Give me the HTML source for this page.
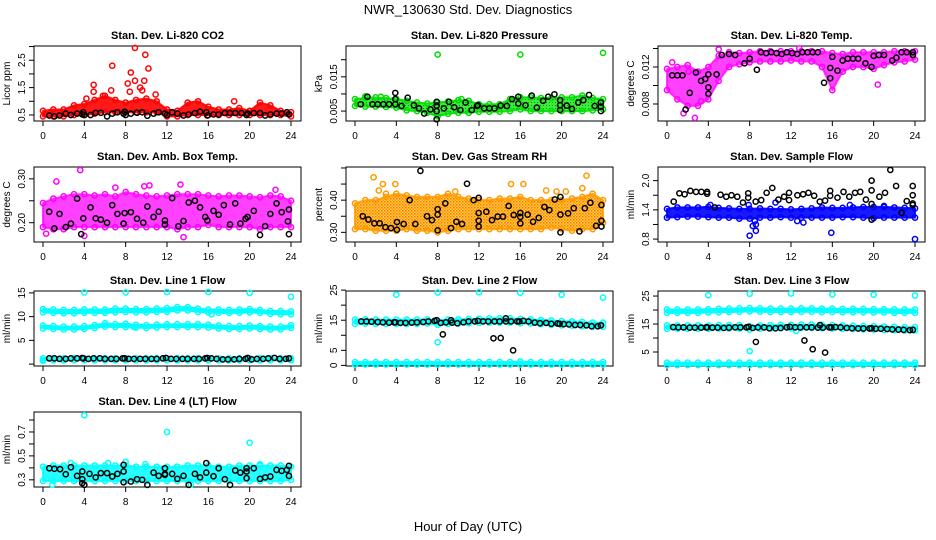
<!DOCTYPE html>
<html><head><meta charset="utf-8"><title>NWR_130630 Std. Dev. Diagnostics</title>
<style>
html,body{margin:0;padding:0;background:#fff;}
svg{display:block;font-family:"Liberation Sans",Arial,sans-serif;}
</style></head>
<body>
<svg id="fig" width="936" height="540" viewBox="0 0 936 540">
<defs>
<pattern id="rhpat" width="3" height="3" patternUnits="userSpaceOnUse"><rect width="3" height="3" fill="#ffd000"/><rect width="1.5" height="1.5" fill="#ff5000"/><rect x="1.5" y="1.5" width="1.5" height="1.5" fill="#ff8000"/></pattern>
<pattern id="grpat" width="3" height="3" patternUnits="userSpaceOnUse"><rect width="3" height="3" fill="#22ee22"/><rect width="1" height="1" fill="#0a700a"/></pattern>
</defs>
<text x="468" y="14" text-anchor="middle" font-size="13">NWR_130630  Std. Dev. Diagnostics</text>
<text x="468" y="531" text-anchor="middle" font-size="13">Hour of Day (UTC)</text>
</svg>
<script>
// ---- shared hourly grid for band series ----
const hours = [0,1,2,3,4,5,6,7,8,9,10,11,12,13,14,15,16,17,18,19,20,21,22,23,24];

// ---- Panel 1: Li-820 CO2 ----
const co2Lo = [0.45,0.45,0.45,0.5,0.5,0.55,0.6,0.6,0.6,0.6,0.6,0.6,0.45,0.45,0.5,0.5,0.5,0.5,0.5,0.5,0.5,0.5,0.5,0.5,0.45];
const co2Hi = [0.65,0.7,0.7,0.85,0.9,1.05,1.2,1.05,0.95,1.05,1.1,1.0,0.7,0.65,0.95,1.0,0.8,0.7,0.7,0.75,0.65,0.95,0.85,0.65,0.6];
const co2OutH = [6.7,8.9,9.9,10.2,8.5,8.9,8.2,4.9,4.9,6.6,8.4,9.4,9.8,18.5,4.2,9.6,10.9,5.8];
const co2OutV = [2.3,2.95,2.7,2.2,2.05,1.75,1.65,1.6,1.35,1.4,1.35,1.5,1.75,1.0,1.1,1.4,1.25,1.2];
const co2BlkH = [0.6,1.1,1.6,2.2,2.7,3.3,3.8,3.9,4.0,4.6,5.1,5.6,6.2,6.7,7.2,7.8,7.9,8.0,8.5,9.1,9.6,10.1,10.7,11.2,11.8,12.0,12.5,13.0,13.6,14.1,14.7,15.2,15.8,15.9,16.5,17.0,17.6,18.1,18.6,19.2,19.7,19.8,20.4,21.0,21.5,22.0,22.6,23.1,23.6,23.8];
const co2BlkV = [0.48,0.45,0.48,0.55,0.5,0.55,0.52,0.6,0.5,0.5,0.58,0.58,0.45,0.55,0.6,0.55,0.62,0.5,0.55,0.58,0.6,0.47,0.55,0.6,0.55,0.5,0.6,0.55,0.48,0.52,0.57,0.62,0.6,0.48,0.52,0.52,0.57,0.57,0.57,0.57,0.5,0.55,0.57,0.57,0.48,0.52,0.55,0.55,0.6,0.52];

// ---- Panel 2: Li-820 Pressure ----
const presLo = [0.0065,0.0063,0.0063,0.0062,0.006,0.0052,0.005,0.0045,0.0035,0.0042,0.0045,0.0045,0.0048,0.0048,0.0048,0.005,0.0055,0.005,0.005,0.005,0.005,0.005,0.005,0.0052,0.0055];
const presHi = [0.0085,0.0088,0.009,0.0088,0.0085,0.008,0.0075,0.0072,0.0075,0.0078,0.0082,0.008,0.007,0.007,0.007,0.0085,0.009,0.009,0.0088,0.0088,0.009,0.009,0.0095,0.0088,0.0085];
const presOutH = [8,16,24,10.3,1.0,2.5];
const presOutV = [0.0215,0.0215,0.022,0.0085,0.0093,0.0092];
const presBlkH = [0.55,1.2,1.7,2.2,2.75,3.3,3.9,3.9,3.9,4.5,5.1,5.7,6.2,6.7,7.3,7.9,7.9,7.9,7.9,8.6,9.1,9.6,10.2,10.7,11.3,11.8,11.9,12.5,13.0,13.5,14.1,14.7,15.2,15.8,15.8,16.5,17.1,17.6,18.2,18.7,19.3,19.85,19.85,19.85,20.5,21.0,21.6,22.1,22.65,23.2,23.8,23.8,23.8];
const presBlkV = [0.007,0.0092,0.007,0.007,0.007,0.007,0.0103,0.0085,0.007,0.0065,0.0089,0.0067,0.0058,0.0043,0.0055,0.0077,0.0066,0.005,0.0026,0.0058,0.0077,0.0061,0.0053,0.0075,0.0053,0.0065,0.0067,0.0058,0.0058,0.0058,0.0066,0.0065,0.0085,0.0092,0.0072,0.0067,0.0095,0.006,0.008,0.0092,0.0099,0.0082,0.0067,0.0053,0.0066,0.0056,0.0075,0.0082,0.0097,0.0065,0.0075,0.0063,0.005];

// ---- Panel 3: Li-820 Temp ----
const tempLo = [0.0095,0.0085,0.0078,0.0078,0.0085,0.0105,0.012,0.0123,0.0125,0.0126,0.0126,0.0126,0.0127,0.0126,0.0126,0.012,0.0095,0.0115,0.012,0.012,0.0118,0.0122,0.0125,0.0126,0.0128];
const tempHi = [0.0118,0.012,0.0122,0.0115,0.012,0.0132,0.0136,0.0135,0.0136,0.0137,0.0137,0.0137,0.0137,0.0137,0.0137,0.0137,0.0135,0.0134,0.0136,0.0136,0.0136,0.0136,0.0137,0.0137,0.0137];
const tempOutH = [0.5,1.6,2.7,2.1,5.0,12.8,20.4,3.3];
const tempOutV = [0.0125,0.007,0.0065,0.0115,0.0139,0.014,0.0101,0.0083];
const tempBlkH = [0.5,1.0,1.5,1.8,2.2,2.8,3.3,3.7,4.0,4.0,4.0,4.8,5.3,6.0,6.6,7.5,8.0,8.7,9.1,9.6,10.1,10.6,11.1,11.6,12.1,12.6,13.1,13.6,14.1,14.6,15.2,15.8,15.8,16.0,16.5,17.0,17.5,18.0,18.5,19.2,19.8,20.0,20.5,21.0,21.8,22.2,22.7,23.2,23.8,23.8];
const tempBlkV = [0.0111,0.0111,0.0111,0.0074,0.0092,0.0114,0.0105,0.0107,0.0112,0.0098,0.0091,0.0112,0.0133,0.0134,0.0133,0.0124,0.0129,0.0117,0.0136,0.0135,0.0136,0.0135,0.0134,0.0136,0.0135,0.0134,0.0136,0.0136,0.0136,0.0136,0.0103,0.0119,0.0108,0.0131,0.0116,0.0127,0.0129,0.0129,0.0129,0.0124,0.012,0.0132,0.0133,0.0133,0.0127,0.013,0.0136,0.0136,0.0136,0.0133];

// ---- Panel 4: Amb. Box Temp ----
const ambLo = [0.19,0.185,0.185,0.19,0.19,0.19,0.19,0.19,0.19,0.19,0.19,0.19,0.19,0.185,0.19,0.19,0.195,0.19,0.19,0.19,0.19,0.185,0.19,0.19,0.19];
const ambHi = [0.245,0.255,0.26,0.265,0.265,0.262,0.265,0.26,0.27,0.265,0.262,0.26,0.262,0.265,0.265,0.265,0.262,0.26,0.262,0.262,0.26,0.258,0.262,0.26,0.25];
const ambOutH = [3.6,1.3,13.6,13.3,10.3,7.0,9.8,4.0,0.3,22.5];
const ambOutV = [0.32,0.294,0.167,0.287,0.285,0.28,0.283,0.17,0.175,0.275];
const ambBlkH = [0.6,1.1,1.6,2.2,2.7,3.3,3.9,3.7,4.6,5.1,5.6,6.2,6.7,7.2,7.8,7.9,8.5,9.1,9.7,10.1,10.7,11.2,11.8,11.8,12.5,13.1,13.6,14.1,14.7,15.2,15.7,15.9,16.5,17.0,17.5,18.1,18.6,19.1,19.6,19.8,20.4,21.0,21.5,22.0,22.6,23.1,23.7,23.8,23.8];
const ambBlkV = [0.225,0.187,0.22,0.19,0.198,0.255,0.21,0.174,0.235,0.21,0.207,0.2,0.24,0.22,0.198,0.222,0.224,0.209,0.2,0.237,0.213,0.225,0.205,0.196,0.256,0.192,0.204,0.246,0.25,0.235,0.213,0.205,0.227,0.218,0.24,0.196,0.244,0.198,0.209,0.213,0.227,0.172,0.192,0.22,0.244,0.224,0.203,0.23,0.174];

// ---- Panel 5: Gas Stream RH ----
const rhLo = [0.31,0.31,0.305,0.305,0.305,0.31,0.305,0.305,0.3,0.305,0.31,0.31,0.31,0.31,0.31,0.31,0.31,0.31,0.31,0.315,0.31,0.305,0.31,0.31,0.33];
const rhHi = [0.39,0.4,0.4,0.41,0.42,0.415,0.41,0.41,0.41,0.42,0.41,0.405,0.4,0.4,0.405,0.405,0.41,0.4,0.4,0.4,0.4,0.405,0.41,0.42,0.4];
const rhOutH = [1.8,2.3,2.7,3.9,15.1,16.3,18.5,19.5,20.4,22.0,22.4,3.0,9.7];
const rhOutV = [0.471,0.43,0.45,0.45,0.45,0.45,0.43,0.427,0.427,0.437,0.476,0.42,0.427];
const rhBlkH = [0.75,1.3,1.87,2.39,2.94,3.48,4.06,4.06,4.71,5.29,5.84,6.33,6.97,7.45,8.0,8.0,8.0,8.74,9.29,9.81,10.36,10.84,11.48,11.97,11.97,11.97,11.97,12.71,13.26,13.81,14.32,14.87,15.36,16.0,16.0,16.0,16.71,17.23,17.78,18.33,18.81,19.33,19.88,19.88,19.88,20.62,21.17,21.72,22.24,22.78,23.33,23.85,23.85,23.85];
const rhBlkV = [0.35,0.34,0.328,0.328,0.316,0.313,0.332,0.308,0.326,0.4,0.326,0.491,0.35,0.338,0.306,0.355,0.372,0.39,0.313,0.333,0.326,0.451,0.4,0.407,0.36,0.336,0.318,0.364,0.338,0.349,0.349,0.382,0.354,0.36,0.348,0.328,0.355,0.333,0.345,0.379,0.369,0.402,0.355,0.3,0.41,0.359,0.375,0.303,0.375,0.392,0.32,0.318,0.336,0.385];

// ---- Panel 6: Sample Flow ----
const sfLo = [1.24,1.25,1.26,1.26,1.25,1.24,1.24,1.22,1.22,1.24,1.24,1.25,1.24,1.24,1.24,1.24,1.24,1.25,1.25,1.24,1.23,1.24,1.24,1.24,1.24];
const sfHi = [1.42,1.45,1.45,1.45,1.46,1.44,1.43,1.42,1.42,1.43,1.42,1.42,1.41,1.42,1.43,1.45,1.44,1.44,1.45,1.46,1.46,1.46,1.45,1.44,1.43];
const sfOutH = [8.0,8.3,8.6,8.6,8.5,15.9,24,12.6,13.2,7.9,4.2,10.5,17.7,21.0];
const sfOutV = [0.87,1.07,1.1,0.97,1.17,0.93,0.8,1.17,1.14,1.5,1.5,1.55,1.5,1.48];
const sfBlkH = [0.65,1.2,1.71,2.26,2.81,3.33,3.88,3.88,4.62,5.18,5.73,6.24,6.8,7.35,7.86,7.86,8.58,9.12,9.64,10.19,10.78,11.33,11.81,11.81,12.62,13.17,13.69,14.24,14.79,15.3,15.79,15.79,16.5,17.08,17.64,18.2,18.7,19.25,19.8,19.8,19.8,19.8,20.55,21.1,21.61,22.17,22.7,23.2,23.78,23.78,23.78,23.78];
const sfBlkV = [1.57,1.74,1.72,1.79,1.77,1.77,1.77,1.73,1.45,1.71,1.67,1.7,1.67,1.55,1.74,1.65,1.57,1.6,1.75,1.85,1.61,1.67,1.6,1.75,1.7,1.72,1.75,1.69,1.57,1.59,1.79,1.69,1.65,1.77,1.67,1.75,1.77,1.61,1.8,2.0,1.52,1.2,1.67,1.75,2.22,1.89,1.34,1.58,1.89,1.7,1.53,1.5];

// ---- shared black-run hours for line flows ----
const lineBlkH = [0.6,1.1,1.6,2.2,2.7,3.3,3.8,3.9,4.4,4.9,5.5,6.0,6.6,7.1,7.7,7.9,8.3,8.8,9.4,9.9,10.5,11.0,11.6,11.9,12.4,12.9,13.5,14.0,14.6,15.1,15.7,15.9,16.3,16.8,17.4,17.9,18.5,19.0,19.6,19.8,20.2,20.7,21.3,21.8,22.4,22.9,23.5,23.8];

// ---- Panel 7: Line 1 Flow ----
const l1aLo = [10.9,10.8,10.7,10.7,10.8,10.8,10.8,10.9,11.0,10.9,10.9,11.0,11.0,11.3,11.3,11.0,10.9,10.8,10.8,10.8,10.9,10.8,10.6,10.5,10.5];
const l1aHi = [11.6,11.5,11.4,11.4,11.5,11.5,11.5,11.7,11.7,11.6,11.6,11.7,11.8,12.0,12.0,11.7,11.5,11.5,11.4,11.5,11.6,11.4,11.2,11.2,11.1];
const l1bLo = [7.5,7.4,7.3,7.3,7.4,7.6,7.9,7.8,7.8,7.7,7.6,7.7,7.8,7.8,7.8,7.8,7.7,7.5,7.4,7.4,7.5,7.4,7.3,7.3,7.6];
const l1bHi = [8.1,8.0,7.9,7.9,8.0,8.2,8.6,8.4,8.5,8.3,8.2,8.3,8.4,8.4,8.4,8.4,8.3,8.1,8.0,8.0,8.1,8.0,7.9,7.9,8.2];
const l1cLo = [0.8,0.8,0.8,0.8,0.8,0.8,0.8,0.8,0.8,0.8,0.8,0.8,0.8,0.8,0.8,0.8,0.8,0.8,0.8,0.8,0.8,0.8,0.8,0.8,0.8];
const l1cHi = [1.2,1.2,1.2,1.2,1.2,1.2,1.2,1.2,1.2,1.2,1.2,1.2,1.2,1.2,1.2,1.2,1.2,1.2,1.2,1.2,1.2,1.2,1.2,1.2,1.2];
const l1OutH = [4,8,12,16,20,24,16.3,0,8.8];
const l1OutV = [15.1,15.1,15.2,15.2,15.0,14.2,10.5,0.7,7.8];
const l1BlkV = [1.2,1.2,1.1,1.1,1.2,1.2,1.3,1.2,1.1,1.2,1.2,1.1,1.1,1.1,1.2,1.2,1.1,1.1,1.1,1.1,1.1,1.1,1.2,1.3,1.1,1.1,1.1,1.1,1.1,1.1,1.2,1.3,1.2,1.1,1.0,1.0,1.0,1.1,1.1,1.3,1.0,1.1,1.1,1.2,1.3,1.1,1.1,1.2];

// ---- Panel 8: Line 2 Flow ----
const l2aLo = [13.8,13.9,13.8,13.8,13.8,13.8,13.8,13.9,13.5,13.8,13.9,14.0,14.1,14.2,14.2,14.2,14.0,13.9,13.7,13.5,13.3,13.2,13.0,12.8,12.8];
const l2aHi = [15.2,15.3,15.2,15.2,15.2,15.2,15.2,15.3,14.9,15.2,15.3,15.4,15.5,15.6,15.6,15.6,15.4,15.3,15.1,14.9,14.7,14.6,14.4,14.2,14.2];
const l2cLo = [0.3,0.3,0.3,0.3,0.3,0.3,0.3,0.3,0.3,0.3,0.3,0.3,0.3,0.3,0.3,0.3,0.3,0.3,0.3,0.3,0.3,0.3,0.3,0.3,0.3];
const l2cHi = [1.1,1.1,1.1,1.1,1.1,1.1,1.1,1.1,1.1,1.1,1.1,1.1,1.1,1.1,1.1,1.1,1.3,1.1,1.1,1.1,1.1,1.1,1.1,1.1,1.1];
const l2OutH = [4,8,12,16,20,24,8];
const l2OutV = [23.5,24.2,24.3,24.1,23.5,22.5,7.7];
const l2BlkV = [14.6,14.6,14.5,14.4,14.3,14.2,14.3,14.3,14.1,14.1,14.2,14.3,14.4,14.6,14.8,15.0,14.1,14.3,14.2,14.0,14.3,14.6,14.6,14.8,14.6,14.6,14.6,14.6,14.6,14.6,14.6,14.6,14.8,14.6,14.2,14.0,14.1,13.8,13.9,13.8,13.7,13.6,13.4,13.4,13.3,13.0,13.0,13.3];
const l2BlkOutH = [8.5,13.4,14.1,15.3,14.6,9.3];
const l2BlkOutV = [10.3,9.0,9.1,5.0,15.6,15.0];

// ---- Panel 9: Line 3 Flow ----
const l3aLo = [19.0,19.0,19.0,19.0,19.1,19.2,19.3,19.4,19.5,19.4,19.3,19.3,19.3,19.4,19.4,19.3,19.3,19.2,19.2,19.2,19.1,19.1,19.0,19.0,19.0];
const l3aHi = [20.2,20.2,20.2,20.2,20.3,20.4,20.5,20.6,20.7,20.6,20.5,20.5,20.5,20.6,20.6,20.5,20.5,20.4,20.4,20.4,20.3,20.3,20.2,20.2,20.2];
const l3bLo = [13.3,13.3,13.3,13.3,13.3,13.4,13.4,13.4,13.0,13.3,13.4,13.5,13.5,13.6,13.6,13.5,13.4,13.3,13.2,13.1,13.0,12.9,12.8,12.7,12.7];
const l3bHi = [14.5,14.5,14.5,14.5,14.5,14.6,14.6,14.6,14.2,14.5,14.6,14.7,14.7,14.8,14.8,14.7,14.6,14.5,14.4,14.3,14.2,14.1,14.0,13.9,13.9];
const l3cLo = [0.3,0.3,0.3,0.3,0.3,0.3,0.3,0.3,0.3,0.3,0.3,0.3,0.3,0.3,0.3,0.3,0.3,0.3,0.3,0.3,0.3,0.3,0.3,0.3,0.3];
const l3cHi = [1.2,1.2,1.2,1.2,1.2,1.2,1.2,1.2,1.2,1.2,1.2,1.2,1.2,1.2,1.2,1.2,1.2,1.2,1.2,1.2,1.2,1.2,1.2,1.2,1.2];
const l3OutH = [4,8,12,16,20,24,8,12.5];
const l3OutV = [25.3,25.8,25.9,25.6,25.5,25.2,5.3,12.5];
const l3BlkV = [13.9,13.8,13.8,13.7,13.7,13.7,13.8,13.8,13.7,13.7,13.6,13.7,13.8,13.8,13.8,14.0,13.6,13.8,13.8,13.5,13.5,13.6,13.8,14.0,13.8,13.8,13.8,13.8,13.7,13.7,13.8,13.8,13.9,13.8,13.6,13.5,13.4,13.4,13.4,13.5,13.3,13.3,13.2,13.1,13.0,12.9,12.8,12.9];
const l3BlkOutH = [8.6,13.3,14.1,15.3,14.8];
const l3BlkOutV = [8.6,9.1,6.0,4.8,14.6];

// ---- Panel 10: Line 4 (LT) Flow ----
const l4Lo = [0.29,0.29,0.29,0.29,0.29,0.29,0.29,0.29,0.29,0.29,0.29,0.29,0.29,0.29,0.29,0.29,0.29,0.29,0.29,0.29,0.29,0.29,0.29,0.29,0.3];
const l4Hi = [0.41,0.42,0.42,0.42,0.42,0.42,0.42,0.42,0.42,0.41,0.41,0.41,0.41,0.41,0.42,0.42,0.42,0.41,0.41,0.42,0.42,0.42,0.42,0.42,0.41];
const l4OutH = [4,12,20,8,0.9,14.3,2.7,6.3,9.9,21];
const l4OutV = [0.84,0.7,0.61,0.45,0.26,0.26,0.44,0.44,0.43,0.43];
const l4BlkH = [0.61,1.1,1.65,2.2,2.7,3.3,3.8,3.8,3.8,4.0,4.5,5.1,5.6,6.2,6.7,7.2,7.8,7.8,7.8,8.5,9.1,9.6,10.1,10.7,11.2,11.8,11.8,11.8,12.5,13.0,13.6,14.1,14.7,15.2,15.8,15.8,16.5,17.0,17.6,18.1,18.6,19.1,19.7,19.7,19.7,20.4,21.0,21.5,22.0,22.6,23.1,23.6,23.8,23.8];
const l4BlkV = [0.397,0.392,0.389,0.347,0.405,0.333,0.305,0.272,0.37,0.258,0.35,0.32,0.356,0.356,0.328,0.35,0.37,0.425,0.28,0.286,0.305,0.3,0.258,0.36,0.333,0.397,0.35,0.342,0.35,0.308,0.333,0.258,0.35,0.32,0.44,0.36,0.33,0.397,0.305,0.258,0.378,0.36,0.397,0.314,0.37,0.397,0.308,0.32,0.328,0.383,0.375,0.383,0.417,0.333];

// ---- axis tick definitions ----
const xTicks = [0,4,8,12,16,20,24];
const co2Ticks=[0.5,1,1.5,2,2.5,3], co2Labels=["0.5","","1.5","","2.5",""];
const presTicks=[0.005,0.01,0.015,0.02], presLabels=["0.005","","0.015",""];
const tempTicks=[0.008,0.01,0.012,0.014], tempLabels=["0.008","","0.012",""];
const ambTicks=[0.2,0.25,0.3], ambLabels=["0.20","","0.30"];
const rhTicks=[0.3,0.35,0.4,0.45,0.5], rhLabels=["0.30","","0.40","",""];
const sfTicks=[0.8,1.1,1.4,1.7,2.0], sfLabels=["0.8","","1.4","","2.0"];
const l1Ticks=[0,5,10,15], l1Labels=["","5","10","15"];
const l2Ticks=[0,5,10,15,20,25], l2Labels=["0","5","","15","","25"];
const l3Ticks=[5,10,15,20,25], l3Labels=["5","","15","","25"];
const l4Ticks=[0.3,0.4,0.5,0.6,0.7,0.8], l4Labels=["0.3","","0.5","","0.7",""];

const NS="http://www.w3.org/2000/svg";
const svg=document.getElementById('fig');
function mk(tag,attrs,parent){const e=document.createElementNS(NS,tag);for(const k in attrs)e.setAttribute(k,attrs[k]);(parent||svg).appendChild(e);return e;}

const colL=[34,346,658], rowT=[46,167,291,412], W=267, HGT=75;

function makePanel(col,row,title,ytitle,ymin,ymax,ticks,labels,name){
  const L=colL[col], T=rowT[row], B=T+HGT, R=L+W;
  const g=mk('g',{});
  
  
  const p={L,T,B,R,g,
    x:h=>L+9+h*(248/24),
    y:v=>B-(v-ymin)/(ymax-ymin)*HGT};
  const t=mk('text',{x:(L+R)/2,y:T-7,'text-anchor':'middle','font-size':'11','font-weight':'bold'},g);
  t.textContent=title;
  
  
  const yt=mk('text',{x:0,y:0,'text-anchor':'middle','font-size':'10',transform:`translate(${L-24},${(T+B)/2}) rotate(-90)`},g);
  yt.textContent=ytitle;
  
  
  const xa=mk('g',{},g);
  
  
  xTicks.forEach(h=>{
    mk('line',{x1:p.x(h),x2:p.x(h),y1:B,y2:B+5,stroke:'#000','stroke-width':1},xa);
    const tl=mk('text',{x:p.x(h),y:B+18,'text-anchor':'middle','font-size':'10'},xa);
    tl.textContent=String(h);
  });
  const ya=mk('g',{},g);
  
  
  ticks.forEach((v,i)=>{
    const y=p.y(v);
    mk('line',{x1:L-5,x2:L,y1:y,y2:y,stroke:'#000','stroke-width':1},ya);
    if(labels[i]){
      const tl=mk('text',{x:0,y:0,'text-anchor':'middle','font-size':'10',transform:`translate(${L-9},${y}) rotate(-90)`},ya);
      tl.textContent=labels[i];
    }
  });
  mk('rect',{x:L,y:T,width:W,height:HGT,fill:'none',stroke:'#000','stroke-width':1},g);
  const clip=mk('clipPath',{id:'clip-'+name},g);
  mk('rect',{x:L,y:T-4,width:W,height:HGT+8},clip);
  p.plot=mk('g',{'clip-path':`url(#clip-${name})`},g);
  return p;
}

function points(p,hs,vs,color,name){
  const g=mk('g',{},p.plot);
  
  
  hs.forEach((h,i)=>{
    const c=mk('circle',{cx:p.x(h),cy:p.y(vs[i]),r:2.6,fill:'none',stroke:color,'stroke-width':1.5},g);
    
    
  });
}
function band(p,lo,hi,color,fill,op,name){
  const g=mk('g',{},p.plot);
  
  
  let pts=hours.map((h,i)=>p.x(h)+','+p.y(hi[i]));
  pts=pts.concat(hours.slice().reverse().map((h,j)=>{const i=hours.length-1-j;return p.x(h)+','+p.y(lo[i]);}));
  const poly=mk('polygon',{points:pts.join(' '),fill:fill,'fill-opacity':op,stroke:color,'stroke-width':2,'stroke-opacity':op,'stroke-linejoin':'round'},g);
  
  
  hours.forEach((h,i)=>{
    [lo[i],hi[i]].forEach(v=>{
      const c=mk('circle',{cx:p.x(h),cy:p.y(v),r:2.6,fill:'none',stroke:color,'stroke-width':1.5},g);
      
      
    });
  });
}

let p=makePanel(0,0,'Stan. Dev. Li-820 CO2','Licor ppm',0.28,3.02,co2Ticks,co2Labels,'co2');
band(p,co2Lo,co2Hi,'#ff0000','#ff0000',0.9,'co2-red-cloud');
points(p,co2OutH,co2OutV,'#ff0000','co2-red-outliers');
points(p,co2BlkH,co2BlkV,'#000','co2-black-series');

p=makePanel(1,0,'Stan. Dev. Li-820 Pressure','kPa',0.0021,0.024,presTicks,presLabels,'pressure');
band(p,presLo,presHi,'#00dd00','url(#grpat)',0.9,'pressure-green-cloud');
points(p,presOutH,presOutV,'#00dd00','pressure-green-outliers');
points(p,presBlkH,presBlkV,'#000','pressure-black-series');

p=makePanel(2,0,'Stan. Dev. Li-820 Temp.','degrees C',0.00616,0.01427,tempTicks,tempLabels,'temp');
band(p,tempLo,tempHi,'#ff00ff','#ff00ff',0.75,'temp-magenta-cloud');
points(p,tempOutH,tempOutV,'#ff00ff','temp-magenta-outliers');
points(p,tempBlkH,tempBlkV,'#000','temp-black-series');

p=makePanel(0,1,'Stan. Dev. Amb. Box Temp.','degrees C',0.156,0.327,ambTicks,ambLabels,'ambtemp');
band(p,ambLo,ambHi,'#ff00ff','#ff00ff',0.75,'ambtemp-magenta-cloud');
points(p,ambOutH,ambOutV,'#ff00ff','ambtemp-magenta-outliers');
points(p,ambBlkH,ambBlkV,'#000','ambtemp-black-series');

p=makePanel(1,1,'Stan. Dev. Gas Stream RH','percent',0.27,0.503,rhTicks,rhLabels,'rh');
band(p,rhLo,rhHi,'#ff9a00','url(#rhpat)',0.85,'rh-orange-cloud');
points(p,rhOutH,rhOutV,'#ff9a00','rh-orange-outliers');
points(p,rhBlkH,rhBlkV,'#000','rh-black-series');

p=makePanel(2,1,'Stan. Dev. Sample Flow','ml/min',0.74,2.28,sfTicks,sfLabels,'sampleflow');
band(p,sfLo,sfHi,'#0000ff','#0000ff',0.9,'sampleflow-blue-cloud');
points(p,sfOutH,sfOutV,'#0000ff','sampleflow-blue-outliers');
points(p,sfBlkH,sfBlkV,'#000','sampleflow-black-series');

p=makePanel(0,2,'Stan. Dev. Line 1 Flow','ml/min',-0.4,15.4,l1Ticks,l1Labels,'line1');
band(p,l1aLo,l1aHi,'#00ffff','#00ffff',1,'line1-upper-band');
band(p,l1bLo,l1bHi,'#00ffff','#00ffff',1,'line1-middle-band');
band(p,l1cLo,l1cHi,'#00ffff','#00ffff',1,'line1-lower-band');
points(p,l1OutH,l1OutV,'#00ffff','line1-cyan-outliers');
points(p,lineBlkH,l1BlkV,'#000','line1-black-series');

p=makePanel(1,2,'Stan. Dev. Line 2 Flow','ml/min',-0.2,24.7,l2Ticks,l2Labels,'line2');
band(p,l2aLo,l2aHi,'#00ffff','#00ffff',1,'line2-main-band');
band(p,l2cLo,l2cHi,'#00ffff','#00ffff',1,'line2-lower-band');
points(p,l2OutH,l2OutV,'#00ffff','line2-cyan-outliers');
points(p,lineBlkH,l2BlkV,'#000','line2-black-series');
points(p,l2BlkOutH,l2BlkOutV,'#000','line2-black-outliers');

p=makePanel(2,2,'Stan. Dev. Line 3 Flow','ml/min',0,26.8,l3Ticks,l3Labels,'line3');
band(p,l3aLo,l3aHi,'#00ffff','#00ffff',1,'line3-upper-band');
band(p,l3bLo,l3bHi,'#00ffff','#00ffff',1,'line3-middle-band');
band(p,l3cLo,l3cHi,'#00ffff','#00ffff',1,'line3-lower-band');
points(p,l3OutH,l3OutV,'#00ffff','line3-cyan-outliers');
points(p,lineBlkH,l3BlkV,'#000','line3-black-series');
points(p,l3BlkOutH,l3BlkOutV,'#000','line3-black-outliers');

p=makePanel(0,3,'Stan. Dev. Line 4 (LT) Flow','ml/min',0.24,0.867,l4Ticks,l4Labels,'line4');
band(p,l4Lo,l4Hi,'#00ffff','#00ffff',0.85,'line4-cyan-cloud');
points(p,l4OutH,l4OutV,'#00ffff','line4-cyan-outliers');
points(p,l4BlkH,l4BlkV,'#000','line4-black-series');
</script>
</body></html>
